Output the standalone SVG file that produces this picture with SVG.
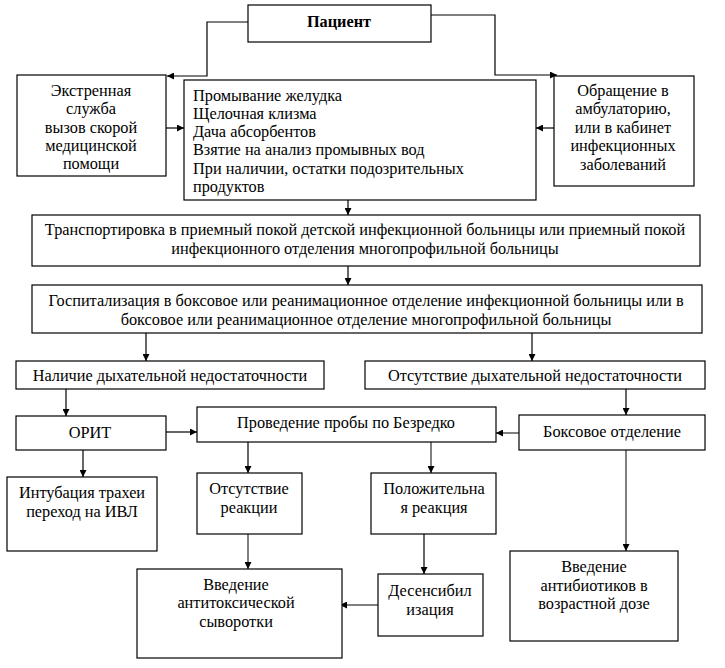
<svg xmlns="http://www.w3.org/2000/svg" width="725" height="668" viewBox="0 0 725 668" font-family="Liberation Serif, Times New Roman, serif">
<defs>
<style>
.b{fill:#fff;stroke:#000;stroke-width:1.2}
.t{font-size:16.3px;fill:#000}
.c{text-anchor:middle}
.k{fill:none;stroke:#000;stroke-width:1.2}
.g{fill:none;stroke:#808080;stroke-width:2}
</style>
<marker id="a" viewBox="0 0 10 10" refX="10" refY="5" markerWidth="7" markerHeight="7" markerUnits="userSpaceOnUse" orient="auto"><path d="M0,0L10,5L0,10z" fill="#000"/></marker>
</defs>
<rect width="725" height="668" fill="#fff"/>
<g id="connectors">
<path class="k" d="M248,22H207V76H167" marker-end="url(#a)"/>
<path class="k" d="M431,15H495V75H557" marker-end="url(#a)"/>
<path class="k" d="M166,128H184" marker-end="url(#a)"/>
<path class="k" d="M554,128H536" marker-end="url(#a)"/>
<path class="k" d="M348,200V215" marker-end="url(#a)"/>
<path class="k" d="M348,266V285" marker-end="url(#a)"/>
<path class="k" d="M146,333V361" marker-end="url(#a)"/>
<path class="k" d="M532,333V361" marker-end="url(#a)"/>
<path class="k" d="M66,389V416" marker-end="url(#a)"/>
<path class="k" d="M626,389V415" marker-end="url(#a)"/>
<path class="k" d="M166,432H197" marker-end="url(#a)"/>
<path class="g" d="M519,433H496" marker-end="url(#a)"/>
<path class="k" d="M83,450V477" marker-end="url(#a)"/>
<path class="k" d="M248,442V473" marker-end="url(#a)"/>
<path class="g" d="M431,442V473" marker-end="url(#a)"/>
<path class="g" d="M248,534V569" marker-end="url(#a)"/>
<path class="k" d="M424,534V574" marker-end="url(#a)"/>
<path class="k" d="M378,605H340" marker-end="url(#a)"/>
<path class="g" d="M626,450V551" marker-end="url(#a)"/>
</g>
<g id="patient"><rect class="b" x="248" y="5" width="183" height="37"/><text class="t c" x="339" y="27" font-weight="bold">Пациент</text></g>
<g id="emergency"><rect class="b" x="17" y="75" width="149" height="101"/>
<text class="t c" x="91"><tspan x="91" y="95.5">Экстренная</tspan><tspan x="91" y="114">служба</tspan><tspan x="91" y="132.5">вызов скорой</tspan><tspan x="91" y="151">медицинской</tspan><tspan x="91" y="169">помощи</tspan></text></g>
<g id="procedures"><rect class="b" x="184" y="80" width="352" height="120"/>
<text class="t"><tspan x="193" y="100.5">Промывание желудка</tspan><tspan x="193" y="118.8">Щелочная клизма</tspan><tspan x="193" y="137.1">Дача абсорбентов</tspan><tspan x="193" y="155.4">Взятие на анализ промывных вод</tspan><tspan x="193" y="173.7">При наличии, остатки подозрительных</tspan><tspan x="193" y="192">продуктов</tspan></text></g>
<g id="clinic"><rect class="b" x="554" y="76" width="140" height="110"/>
<text class="t c"><tspan x="623" y="95.5">Обращение в</tspan><tspan x="623" y="113.5">амбулаторию,</tspan><tspan x="623" y="132.5">или в кабинет</tspan><tspan x="623" y="151">инфекционных</tspan><tspan x="623" y="169.5">заболеваний</tspan></text></g>
<g id="transport"><rect class="b" x="32" y="215" width="668" height="51"/>
<text class="t c"><tspan x="365" y="235">Транспортировка в приемный покой детской инфекционной больницы или приемный покой</tspan><tspan x="365" y="253.5">инфекционного отделения многопрофильной больницы</tspan></text></g>
<g id="hospital"><rect class="b" x="32" y="285" width="670" height="48"/>
<text class="t c"><tspan x="366" y="306">Госпитализация в боксовое или реанимационное отделение инфекционной больницы или в</tspan><tspan x="366" y="324.5">боксовое или реанимационное отделение многопрофильной больницы</tspan></text></g>
<g id="resp-yes"><rect class="b" x="16" y="361" width="308" height="28"/><text class="t c" x="170" y="380.5">Наличие дыхательной недостаточности</text></g>
<g id="resp-no"><rect class="b" x="365" y="361" width="340" height="28"/><text class="t c" x="535" y="380.5">Отсутствие дыхательной недостаточности</text></g>
<g id="orit"><rect class="b" x="16" y="416" width="150" height="34"/><text class="t c" x="90" y="437.5">ОРИТ</text></g>
<g id="bezredko"><rect class="b" x="197" y="407" width="299" height="35"/><text class="t c" x="346" y="427.5">Проведение пробы по Безредко</text></g>
<g id="box-dept"><rect class="b" x="519" y="415" width="186" height="35"/><text class="t c" x="612" y="436.5">Боксовое отделение</text></g>
<g id="intubation"><rect class="b" x="7" y="477" width="150" height="74"/>
<text class="t c"><tspan x="82" y="497.5">Интубация трахеи</tspan><tspan x="82" y="516.5">переход на ИВЛ</tspan></text></g>
<g id="no-reaction"><rect class="b" x="197" y="473" width="105" height="61"/>
<text class="t c"><tspan x="249" y="493.5">Отсутствие</tspan><tspan x="249" y="512.5">реакции</tspan></text></g>
<g id="positive"><rect class="b" x="371" y="473" width="125" height="61"/>
<text class="t c"><tspan x="434" y="493.5">Положительна</tspan><tspan x="434" y="512.5">я реакция</tspan></text></g>
<g id="antitoxic"><rect class="b" x="137" y="569" width="205" height="89"/>
<text class="t c"><tspan x="236" y="589.5">Введение</tspan><tspan x="236" y="607.5">антитоксической</tspan><tspan x="236" y="626.5">сыворотки</tspan></text></g>
<g id="desens"><rect class="b" x="378" y="574" width="105" height="62"/>
<text class="t c"><tspan x="430" y="595.5">Десенсибил</tspan><tspan x="430" y="614.5">изация</tspan></text></g>
<g id="antibiotics"><rect class="b" x="510" y="551" width="168" height="90"/>
<text class="t c"><tspan x="594" y="571.5">Введение</tspan><tspan x="594" y="590.5">антибиотиков в</tspan><tspan x="594" y="608.5">возрастной дозе</tspan></text></g>
</svg>
